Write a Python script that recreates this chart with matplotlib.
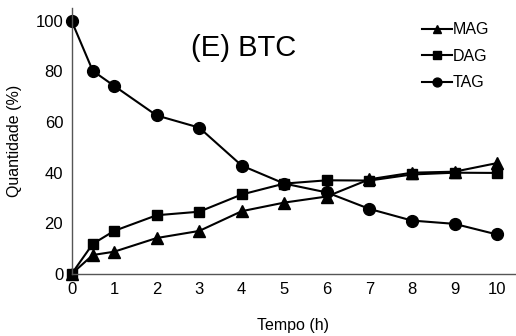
import numpy as np
import matplotlib
matplotlib.use("Agg")
import matplotlib.pyplot as plt

plt.rcParams['font.family'] = ['Liberation Sans', 'DejaVu Sans']

# tempo de reação (h) e composição (%)
tempo = [0, 0.5, 1, 2, 3, 4, 5, 6, 7, 8, 9, 10]
mag = [0, 7.5, 8.8, 14.2, 17.0, 24.8, 28.2, 30.6, 37.4, 40.0, 40.4, 43.8]
dag = [0, 11.9, 17.0, 23.2, 24.6, 31.4, 35.7, 37.0, 36.9, 39.3, 40.0, 39.9]
tag = [100, 80.2, 74.3, 62.6, 57.8, 42.8, 35.7, 32.2, 25.7, 21.1, 19.8, 15.6]

fig = plt.figure(figsize=(5.16, 3.36), dpi=100)
ax = fig.add_axes([0.1386, 0.1845, 0.8594, 0.7915])

kw = dict(color='black', lw=1.5, clip_on=False)
ax.plot(tempo, mag, marker='^', ms=8.5, label='MAG', **kw)
ax.plot(tempo, dag, marker='s', ms=7.5, label='DAG', **kw)
ax.plot(tempo, tag, marker='o', ms=8.5, label='TAG', **kw)

ax.set_xlim(0, 10.42)
ax.set_ylim(0, 105)
ax.set_xticks(range(0, 11))
ax.set_yticks(range(0, 101, 20))
ax.tick_params(length=0, labelsize=12, pad=6)
for s in ['top', 'right']:
    ax.spines[s].set_visible(False)
for s in ['left', 'bottom']:
    ax.spines[s].set_color('#555555')
    ax.spines[s].set_linewidth(1)

ax.set_xlabel('Tempo (h)', fontsize=11.5, labelpad=15)
ax.set_ylabel('Quantidade (%)', fontsize=11.5, labelpad=10)

ax.text(0.389, 0.85, '(E) BTC', transform=ax.transAxes, fontsize=21,
        ha='center', va='center')

ax.legend(loc='upper right', bbox_to_anchor=(0.975, 1.0), frameon=False,
          fontsize=11.5, handlelength=1.9, handletextpad=0.05,
          labelspacing=0.72, markerscale=0.75)

fig.savefig('out.png', dpi=100)
